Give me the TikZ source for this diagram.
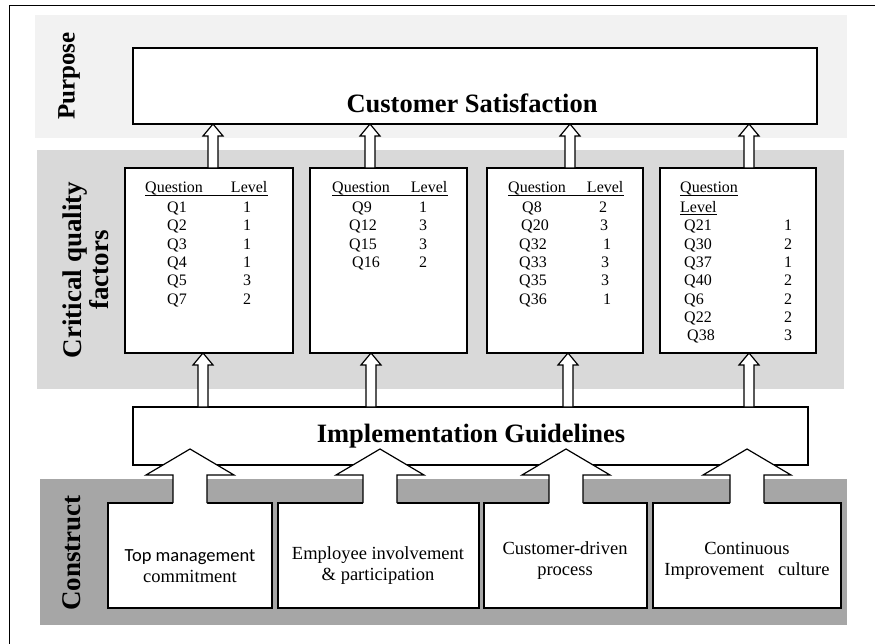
\documentclass[tikz,border=0pt]{standalone}
\usepackage{fontspec}
\setmainfont{Liberation Serif}
\newfontfamily\sansfont{Carlito}
\usetikzlibrary{calc}

\definecolor{purposegray}{HTML}{F2F2F2}
\definecolor{factorgray}{HTML}{D9D9D9}
\definecolor{constructgray}{HTML}{A6A6A6}

\newcommand{\hollowup}[3]{%
	\draw[arrowline] let \p1=(#2), \p2=(#3) in (#1pt-5pt,\y1) -- (#1pt-5pt,\y2-12pt) -- (#1pt-10pt,\y2-12pt) -- (#1pt,\y2) -- (#1pt+10pt,\y2-12pt) -- (#1pt+5pt,\y2-12pt) -- (#1pt+5pt,\y1) -- cycle;}
\newcommand{\blockup}[2]{%
	\fill[white] let \p1=(#2) in (#1pt-17pt,\y1-0.8pt) -- (#1pt-17pt,\y1+28pt) -- (#1pt-44pt,\y1+28pt) -- (#1pt,\y1+54pt) -- (#1pt+44pt,\y1+28pt) -- (#1pt+17pt,\y1+28pt) -- (#1pt+17pt,\y1-0.8pt) -- cycle;
	\draw[line width=1.2pt, line join=miter] let \p1=(#2) in (#1pt-17pt,\y1) -- (#1pt-17pt,\y1+28pt) -- (#1pt-44pt,\y1+28pt) -- (#1pt,\y1+54pt) -- (#1pt+44pt,\y1+28pt) -- (#1pt+17pt,\y1+28pt) -- (#1pt+17pt,\y1);}

\begin{document}
\begin{tikzpicture}[x=1pt,y=-1pt,
	panel/.style={draw, fill=white, line width=1.2pt, inner sep=0pt, outer sep=0pt, anchor=north west},
	arrowline/.style={draw, fill=white, line width=1.2pt, line join=miter},
	sect/.style={font=\fontsize{27}{26.5}\selectfont\bfseries, rotate=90, align=center, inner sep=0pt},
	head/.style={font=\fontsize{26.5}{30}\selectfont\bfseries, inner sep=0pt, anchor=base},
	qtxt/.style={font=\fontsize{16}{18}\selectfont, inner sep=0pt, anchor=base},
	ctxt/.style={font=\fontsize{18.5}{21}\selectfont, inner sep=0pt, align=center},
	uline/.style={line width=0.8pt}]
	\useasboundingbox (0,0) rectangle (875,644);
	\draw[line width=1pt] (9,644) -- (9,6) -- (875,6);
	\fill[purposegray] (35,15) rectangle (847,138);
	\fill[factorgray] (37,150) rectangle (844,389);
	\fill[constructgray] (40,479) rectangle (847,625);
	
	\node[sect, font=\fontsize{25}{26}\selectfont\bfseries] (purp) at (69,76) {Purpose};
	\node[sect] (crit) at (86,270) {Critical quality\\factors};
	\node[sect] (cons) at (72,553) {Construct};
	
	\node[panel, minimum width=684, minimum height=76] (cs) at (133,48) {};
	\node[panel, minimum width=675, minimum height=58] (ig) at (133,407) {};
	\foreach \a/\w [count=\i] in {125/168,310/157,487/156,660/156}
		\node[panel, minimum width=\w, minimum height=185] (q\i) at (\a,168) {};
	\foreach \a/\w [count=\i] in {108/164,278/201,484/163,653/188}
		\node[panel, minimum width=\w, minimum height=105] (c\i) at (\a,503) {};
	
	\node[head] (cstext) at (472,113) {Customer Satisfaction};
	\node[head] (igtext) at (471,442) {Implementation Guidelines};
	
	\foreach \ax [count=\i] in {213,370,570,749} \hollowup{\ax}{q\i.north}{cs.south};
	\foreach \ax [count=\i] in {203,371,568,749} \hollowup{\ax}{ig.north}{q\i.south};
	\foreach \ax [count=\i] in {190,380,566,747} \blockup{\ax}{c\i.north};
	
	\node[qtxt, anchor=base west] (h1) at (145,193) {Question\hspace{28pt}Level};
	\node[qtxt, anchor=base west] (h2) at (332,193) {Question\hspace{21pt}Level};
	\node[qtxt, anchor=base west] (h3) at (508,193) {Question\hspace{21pt}Level};
	\node[qtxt, anchor=base west] (h4) at (680,193) {Question};
	\node[qtxt, anchor=base west] (h5) at (680,212.7) {Level};
	\foreach \n in {h1,h2,h3,h4,h5}
		\draw[uline] ($(\n.base west)+(0,2)$) -- ($(\n.base east)+(0,2)$);
	
	\foreach \q/\l [count=\i] in {Q1/1,Q2/1,Q3/1,Q4/1,Q5/3,Q7/2} {
		\node[qtxt] (fa\i) at (177,194.4+18.3*\i) {\q};
		\node[qtxt] (fb\i) at (247,194.4+18.3*\i) {\l};
	}
	\foreach \q/\qx/\l [count=\i] in {Q9/362/1,Q12/363/3,Q15/363/3,Q16/366/2} {
		\node[qtxt] (ga\i) at (\qx,194.4+18.3*\i) {\q};
		\node[qtxt] (gb\i) at (423,194.4+18.3*\i) {\l};
	}
	\foreach \q/\qx/\l/\lx [count=\i] in {Q8/532/2/603,Q20/535/3/604,Q32/533/1/607,Q33/533/3/605,Q35/533/3/605,Q36/533/1/607} {
		\node[qtxt] (ka\i) at (\qx,194.4+18.3*\i) {\q};
		\node[qtxt] (kb\i) at (\lx,194.4+18.3*\i) {\l};
	}
	\foreach \q/\qx/\l [count=\i] in {Q21/684/1,Q30/684/2,Q37/684/1,Q40/684/2,Q6/684/2,Q22/684/2,Q38/687/3} {
		\node[qtxt, anchor=base west] (ma\i) at (\qx,212.7+18.3*\i) {\q};
		\node[qtxt] (mb\i) at (788,212.7+18.3*\i) {\l};
	}
	
	\node[ctxt] (c1t) at (190,566) {\sansfont Top management\\commitment};
	\node[ctxt] (c2t) at (378,566) {Employee involvement\\\& participation};
	\node[ctxt] (c3t) at (565,561) {Customer-driven\\process};
	\node[ctxt] (c4t) at (747,561) {Continuous\\Improvement\hspace{14pt}culture};
\end{tikzpicture}
\end{document}
